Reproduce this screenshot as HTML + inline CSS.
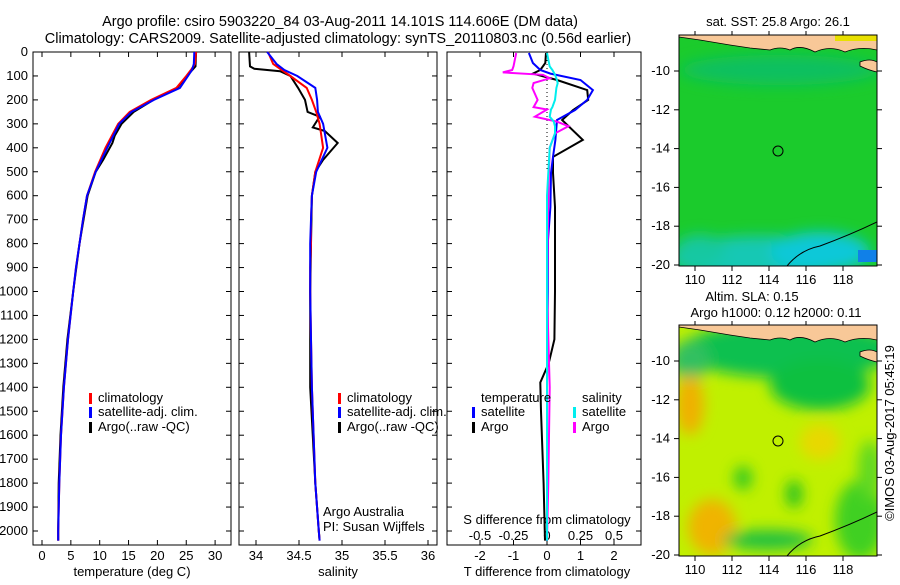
<!DOCTYPE html>
<html><head><meta charset="utf-8"><style>
body{margin:0;background:#fff;width:900px;height:580px;overflow:hidden}
svg{font-family:"Liberation Sans",sans-serif;font-size:13px}
</style></head><body>
<svg id="c" width="900" height="580">
<defs>
<filter id="bl" x="-50%" y="-50%" width="200%" height="200%"><feGaussianBlur stdDeviation="7"/></filter>
<clipPath id="m1"><rect x="679" y="35" width="198" height="231"/></clipPath>
<clipPath id="m2"><rect x="679" y="325" width="198" height="231"/></clipPath>
</defs>
<text x="340" y="26" text-anchor="middle" style="font-size:14.5px">Argo profile: csiro 5903220_84 03-Aug-2011 14.101S 114.606E (DM data)</text>
<text x="338" y="43" text-anchor="middle" style="font-size:14.5px">Climatology: CARS2009. Satellite-adjusted climatology: synTS_20110803.nc (0.56d earlier)</text>

<!-- SST map -->
<g clip-path="url(#m1)">
<rect x="679" y="35" width="198" height="231" fill="#1fc83a"/>
<rect x="679" y="35" width="198" height="231" fill="#14d214" opacity="0.35"/>
<g filter="url(#bl)">
<ellipse cx="760" cy="258" rx="90" ry="22" fill="#18c8b4"/>
<ellipse cx="820" cy="252" rx="50" ry="20" fill="#10c8d8"/>
<ellipse cx="700" cy="250" rx="25" ry="15" fill="#18c8a0"/>
<ellipse cx="780" cy="70" rx="100" ry="15" fill="#10c060"/>
</g>
<rect x="858" y="250" width="19" height="12" fill="#1080e8"/>
<path d="M679,35 L877,35 L877,50 Q860,46 845,52 Q830,45 815,52 Q800,44 790,50 Q780,46 770,50 L750,48 L730,45 L700,40 L679,37Z" fill="#f8c898" stroke="#000" stroke-width="0.8"/>
<rect x="835" y="35" width="42" height="6" fill="#e8e000"/>
<path d="M860,62 Q870,58 877,62 L877,72 Q868,70 860,66Z" fill="#f8c898" stroke="#000" stroke-width="0.8"/>
<path d="M787,266 Q800,250 820,246 Q850,235 877,222" fill="none" stroke="#000" stroke-width="1"/>
<circle cx="778" cy="151" r="5" fill="none" stroke="#000"/>
</g>
<rect x="679" y="35" width="198" height="231" fill="none" stroke="#000"/>
<text x="778" y="26" text-anchor="middle">sat. SST: 25.8 Argo: 26.1</text>

<!-- SLA map -->
<g clip-path="url(#m2)">
<rect x="679" y="325" width="198" height="231" fill="#c0f000"/>
<g filter="url(#bl)">
<ellipse cx="790" cy="350" rx="110" ry="28" fill="#10c050"/>
<ellipse cx="820" cy="385" rx="50" ry="25" fill="#10c040"/>
<ellipse cx="690" cy="360" rx="20" ry="20" fill="#30c060"/>
<ellipse cx="690" cy="405" rx="14" ry="30" fill="#f0b000"/>
<ellipse cx="712" cy="527" rx="24" ry="28" fill="#f0b400"/>
<ellipse cx="820" cy="442" rx="20" ry="18" fill="#e8d800"/>
<ellipse cx="743" cy="478" rx="9" ry="12" fill="#30c820"/>
<ellipse cx="794" cy="494" rx="8" ry="14" fill="#20c020"/>
<ellipse cx="768" cy="540" rx="45" ry="10" fill="#20c040"/>
<ellipse cx="860" cy="520" rx="25" ry="40" fill="#40d020"/>
<ellipse cx="870" cy="470" rx="12" ry="30" fill="#60d820"/>
</g>
<path d="M679,325 L877,325 L877,340 Q860,336 845,342 Q830,335 815,342 Q800,334 790,340 Q780,336 770,340 L750,338 L730,335 L700,330 L679,327Z" fill="#f8c898" stroke="#000" stroke-width="0.8"/>
<path d="M860,352 Q870,348 877,352 L877,362 Q868,360 860,356Z" fill="#f8c898" stroke="#000" stroke-width="0.8"/>
<path d="M787,556 Q800,540 820,536 Q850,525 877,512" fill="none" stroke="#000" stroke-width="1"/>
<circle cx="778" cy="441" r="5" fill="none" stroke="#000"/>
</g>
<rect x="679" y="325" width="198" height="231" fill="none" stroke="#000"/>
<text x="752" y="301" text-anchor="middle">Altim. SLA: 0.15</text>
<text x="776" y="317" text-anchor="middle">Argo h1000: 0.12 h2000: 0.11</text>
<text transform="translate(894,433) rotate(-90)" text-anchor="middle">©IMOS 03-Aug-2017 05:45:19</text>

<g id="plots"></g>
</svg>
<script>
// depth grid for climatology/satellite profiles
const depthC = [0,50,75,100,150,200,250,300,400,500,600,700,800,900,1000,1200,1400,1600,1800,2000,2040];
const tempClim = [26.7,26.5,25.8,25.0,23.3,18.9,15.2,13.2,11.0,9.2,7.8,7.1,6.5,5.9,5.4,4.5,3.8,3.3,3.0,2.8,2.8];
const tempSat  = [26.4,26.3,26.0,25.3,23.9,19.4,15.5,13.4,11.3,9.3,7.8,7.1,6.5,5.9,5.4,4.5,3.8,3.3,3.0,2.8,2.8];
const depthA = [0,60,90,150,200,250,300,350,380,450,500,600,800,1000,1200,1400,1600,1800,2000,2040];
const tempArgo = [26.7,26.6,25.5,23.4,19.3,15.9,13.8,12.6,12.2,10.6,9.3,7.9,6.5,5.4,4.4,3.7,3.2,2.9,2.8,2.8];
const salClim = [34.14,34.2,34.3,34.4,34.59,34.65,34.7,34.74,34.78,34.69,34.65,34.64,34.64,34.63,34.63,34.64,34.65,34.67,34.69,34.73,34.74];
const salSat  = [34.13,34.24,34.33,34.48,34.69,34.71,34.72,34.78,34.83,34.7,34.65,34.64,34.63,34.63,34.63,34.64,34.65,34.67,34.69,34.73,34.74];
const depthSA = [0,60,70,80,100,150,200,250,270,315,330,380,450,500,600,800,1000,1400,1800,2000,2040];
const salArgo = [33.92,33.93,33.98,34.28,34.4,34.49,34.57,34.6,34.74,34.66,34.8,34.95,34.78,34.69,34.65,34.64,34.63,34.63,34.69,34.73,34.74];
// difference panel
const depthD = [4,46,75,90,117,159,200,242,284,367,438,505,647,785,1000,1200,1300,1380,1500,1800,2040];
const tDiffSat  = [-0.54,-0.42,-0.2,0.1,1.0,1.37,1.2,0.84,0.3,0.25,0.18,0.12,0.1,0.03,0.02,0.02,0.01,0.0,0.0,0.0,0.0];
const tDiffArgo = [-0.03,-0.05,-0.2,-0.42,0.3,1.2,1.23,0.78,0.45,1.07,0.18,0.18,0.24,0.24,0.24,0.22,0.05,-0.2,-0.18,-0.1,-0.06];
const depthS = [4,60,75,85,95,110,130,150,200,230,240,270,290,310,340,400,600,1000,1400,1800,2040];
const sDiffArgo = [-0.23,-0.25,-0.26,-0.33,-0.03,0.02,-0.1,-0.11,-0.07,-0.1,0.0,-0.09,0.07,0.16,0.06,0.02,0.01,0.0,0.02,0.01,0.0];
const sDiffSat  = [0,0.02,0.04,0.05,0.06,0.07,0.08,0.07,0.06,0.04,0.03,0.02,0.05,0.06,0.06,0.02,0.0,0.0,0.0,0.0,0.0];
const depthTicks = [0,100,200,300,400,500,600,700,800,900,1000,1100,1200,1300,1400,1500,1600,1700,1800,1900,2000];
const tempTicks = [0,5,10,15,20,25,30];
const salTicks = [34,34.5,35,35.5,36];
const tdTicks = [-2,-1,0,1,2];
const sdTicks = [-0.5,-0.25,0,0.25,0.5];
const sdTickLabels = ['-0.5','-0.25','0','0.25','0.5'];

const NS='http://www.w3.org/2000/svg';
const g=document.getElementById('plots');
const Y=d=>52+d*0.2395;
const xT=t=>42+t*5.77, xS=s=>256+(s-34)*86, xTD=v=>547+v*33.5, xSD=v=>547+v*134;
function el(tag,attrs,parent){const e=document.createElementNS(NS,tag);for(const k in attrs)e.setAttribute(k,attrs[k]);(parent||g).appendChild(e);return e;}
function txt(x,y,s,anchor){const t=el('text',{x:x,y:y,'text-anchor':anchor||'middle'});t.textContent=s;return t;}
function line(xs,ds,fx,color,name){
  const pts=xs.map((v,i)=>fx(v).toFixed(1)+','+Y(ds[i]).toFixed(1)).join(' ');
  const p=el('polyline',{points:pts,fill:'none',stroke:color,'stroke-width':2});
  
  
}
const panels=[[33,231],[239,437],[447,641]];
panels.forEach((p,i)=>{
  const r=el('rect',{x:p[0],y:52,width:p[1]-p[0],height:493,fill:'none',stroke:'#000'});
  
  
  depthTicks.forEach(d=>{el('line',{x1:p[0],x2:p[0]+5,y1:Y(d),y2:Y(d),stroke:'#000'});el('line',{x1:p[1],x2:p[1]-5,y1:Y(d),y2:Y(d),stroke:'#000'});});
});
depthTicks.forEach(d=>{const t=txt(28,Y(d)+4,String(d),'end');
  
  });
function xticks(ticks,fx,labels,ly,bottom,top){
  ticks.forEach((v,i)=>{const x=fx(v);
    if(bottom)el('line',{x1:x,x2:x,y1:545,y2:540,stroke:'#000'});
    if(top)el('line',{x1:x,x2:x,y1:52,y2:57,stroke:'#000'});
    const t=txt(x,ly,labels?labels[i]:String(v));
    
    });
}
xticks(tempTicks,xT,null,560,true,true);
xticks(salTicks,xS,null,560,true,true);
xticks(tdTicks,xTD,null,560,true,true);
xticks(sdTicks,xSD,sdTickLabels,540,false,false);
[[132,'temperature (deg C)','x-axis-title-temperature'],[338,'salinity','x-axis-title-salinity'],[547,'T difference from climatology','x-axis-title-tdiff']].forEach(a=>{
  const t=txt(a[0],576,a[1]);});
let t0=txt(547,524,'S difference from climatology');


// dotted zero line
el('line',{x1:547,x2:547,y1:52,y2:Y(500),stroke:'#000','stroke-dasharray':'1,3'});

line(tempArgo,depthA,xT,'#000','temp-argo-line');
line(tempClim,depthC,xT,'#f00','temp-clim-line');
line(tempSat,depthC,xT,'#00f','temp-sat-line');
line(salArgo,depthSA,xS,'#000','sal-argo-line');
line(salClim,depthC,xS,'#f00','sal-clim-line');
line(salSat,depthC,xS,'#00f','sal-sat-line');
line(tDiffArgo,depthD,xTD,'#000','tdiff-argo-line');
line(tDiffSat,depthD,xTD,'#00f','tdiff-sat-line');
line(sDiffArgo,depthS,xSD,'#f0f','sdiff-argo-line');
line(sDiffSat,depthS,xSD,'#0ee','sdiff-sat-line');

function legend(x,y,color,label){
  if(color)el('rect',{x:x,y:y-9,width:3,height:11,fill:color});
  const t=txt(x+(color?9:0),y,label,'start');
  
  
}
[[89,93],[338,342]].forEach(a=>{
  legend(a[0],402,'#f00','climatology');legend(a[0],416,'#00f','satellite-adj. clim.');legend(a[0],431,'#000','Argo(..raw -QC)');
});
legend(481,402,null,'temperature');legend(472,416,'#00f','satellite');legend(472,431,'#000','Argo');
legend(582,402,null,'salinity');legend(573,416,'#0ee','satellite');legend(573,431,'#f0f','Argo');
let a1=txt(323,516,'Argo Australia','start');
let a2=txt(323,531,'PI: Susan Wijffels','start');

// map axes
const lats=[-10,-12,-14,-16,-18,-20], lons=[110,112,114,116,118];
[[35,266],[325,556]].forEach(m=>{
  lats.forEach(v=>{const y=m[1]-1-(v+20)*19.4;el('line',{x1:674,x2:679,y1:y,y2:y,stroke:'#000'});el('line',{x1:877,x2:882,y1:y,y2:y,stroke:'#000'});
    const t=txt(670,y+4,String(v),'end');});
  lons.forEach(v=>{const x=695+(v-110)*18.5;el('line',{x1:x,x2:x,y1:m[1],y2:m[1]+5,stroke:'#000'});el('line',{x1:x,x2:x,y1:m[0],y2:m[0]-4,stroke:'#000'});
    const t=txt(x,m[1]+18,String(v));});
});
</script>
</body></html>
